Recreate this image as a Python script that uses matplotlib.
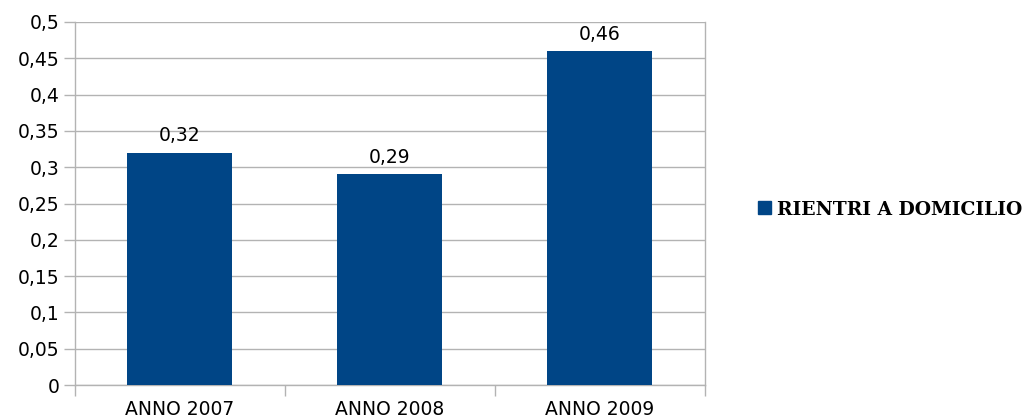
import matplotlib.pyplot as plt
from matplotlib.patches import Patch
import numpy as np

# data
categories = ["ANNO 2007", "ANNO 2008", "ANNO 2009"]
values = [0.32, 0.29, 0.46]
value_labels = ["0,32", "0,29", "0,46"]
series_name = "RIENTRI A DOMICILIO"
yticks = [0, 0.05, 0.1, 0.15, 0.2, 0.25, 0.3, 0.35, 0.4, 0.45, 0.5]

bar_color = "#004586"
grid_color = "#b3b3b3"

plt.rcParams["font.family"] = ["DejaVu Sans"]

fig = plt.figure(figsize=(10.26, 4.19), dpi=100)
ax = fig.add_axes([0.0731, 0.0811, 0.6140, 0.8664])

x = np.arange(len(categories))
bars = ax.bar(x, values, width=0.5, color=bar_color, zorder=3)

for xi, v, lab in zip(x, values, value_labels):
    ax.text(xi, v + 0.010, lab, ha="center", va="bottom", fontsize=13.5, color="black")

ax.set_xlim(-0.5, 2.5)
ax.set_ylim(0, 0.5)
ax.set_yticks(yticks)
ax.set_yticklabels([("%g" % t).replace(".", ",") for t in yticks], fontsize=13.5)
ax.yaxis.grid(True, color=grid_color, linewidth=1, zorder=0)

# category tick marks on boundaries, labels centered
ax.set_xticks([-0.5, 0.5, 1.5, 2.5])
ax.set_xticklabels([])
ax.set_xticks(x, minor=True)
ax.set_xticklabels(categories, minor=True, fontsize=13.5)
ax.tick_params(axis="x", which="minor", length=0, pad=11)
ax.tick_params(axis="x", which="major", length=8, color=grid_color, width=1)
ax.tick_params(axis="y", length=8, color=grid_color, width=1, pad=3)

for side in ["left", "right", "bottom"]:
    ax.spines[side].set_color(grid_color)
    ax.spines[side].set_linewidth(1)
ax.spines["top"].set_visible(False)

handle = Patch(facecolor=bar_color, edgecolor=bar_color)
fig.legend([handle], [series_name], loc="center left", bbox_to_anchor=(0.722, 0.5),
           frameon=False, handlelength=0.7, handleheight=0.7, handletextpad=0.35,
           prop={"family": "DejaVu Serif", "weight": "bold", "size": 13.5})

fig.savefig("out.png", dpi=100)
